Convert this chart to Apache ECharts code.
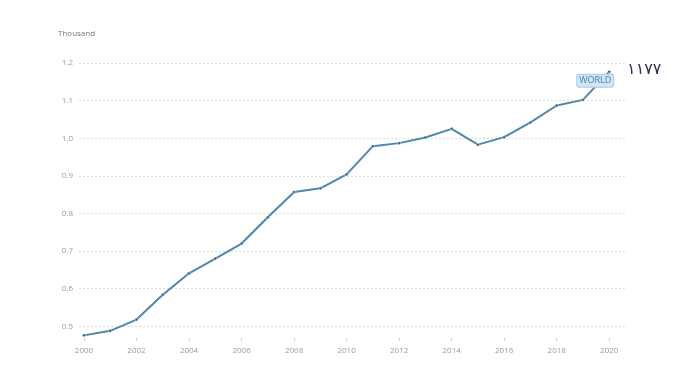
<!DOCTYPE html>
<html>
<head>
<meta charset="utf-8">
<script src="https://cdn.jsdelivr.net/npm/echarts@6/dist/echarts.min.js"></script>
<style>html,body{margin:0;padding:0;background:#fff}#c{width:700px;height:367px}</style>
</head>
<body>
<div id="c"></div>
<script>
var years = [2000,2001,2002,2003,2004,2005,2006,2007,2008,2009,2010,2011,2012,2013,2014,2015,2016,2017,2018,2019,2020];
var values = [0.476,0.488,0.518,0.584,0.641,0.680,0.720,0.790,0.857,0.867,0.904,0.979,0.987,1.002,1.025,0.983,1.003,1.042,1.087,1.102,1.177];
var xTicks = [2000,2002,2004,2006,2008,2010,2012,2014,2016,2018,2020];
var yTicks = [0.5,0.6,0.7,0.8,0.9,1.0,1.1,1.2];
var unitLabel = 'Thousand';
var seriesName = 'WORLD';
var lastValueText = '١١٧٧';

var chart = echarts.init(document.getElementById('c'));
var data = years.map(function(y,i){ return [y, values[i]]; });
var last = data.length - 1;
data[last] = {
  value: data[last],
  label: {
    show: true, formatter: seriesName, position: 'inside', offset: [-14, 9],
    color: '#4a7fab', fontSize: 9, fontFamily: 'Open Sans',
    backgroundColor: '#d2e5f3', borderColor: '#a9cbe3', borderWidth: 1,
    borderRadius: 2, padding: [2, 2, 1, 2]
  }
};
chart.setOption({
  animation: false,
  backgroundColor: '#ffffff',
  grid: { left: 79, right: 75, top: 63, bottom: 29, containLabel: false },
  xAxis: {
    type: 'value', min: 1999.81, max: 2020.6,
    axisLine: { show: false },
    axisTick: { show: true, customValues: xTicks, length: 3, lineStyle: { color: '#cccccc' } },
    axisLabel: { customValues: xTicks, color: '#9a9a9a', fontSize: 8, fontFamily: 'Open Sans', margin: 9,
      formatter: function(v){ return String(v); } },
    splitLine: { show: false }
  },
  yAxis: {
    type: 'value', min: 0.469, max: 1.2,
    name: unitLabel, nameLocation: 'end', nameGap: 25,
    nameTextStyle: { color: '#777', fontSize: 8, fontFamily: 'Open Sans', align: 'left', padding: [0,0,0,-21] },
    axisLine: { show: false },
    axisTick: { show: false, customValues: yTicks },
    axisLabel: { customValues: yTicks, color: '#9a9a9a', fontSize: 8, fontFamily: 'Open Sans', margin: 6,
      formatter: function(v){ return v.toFixed(1); } },
    splitLine: { show: true, lineStyle: { color: '#dddddd', type: [2, 2], width: 1 } }
  },
  series: [{
    name: seriesName,
    type: 'line',
    data: data,
    symbol: 'circle', symbolSize: 3,
    itemStyle: { color: '#2f5f80', borderColor: '#e8f0f5', borderWidth: 0.5 },
    lineStyle: { color: '#4f87a9', width: 2 },
    markPoint: {
      symbol: 'circle', symbolSize: 0,
      data: [{ coord: [years[last], values[last]] }],
      label: { show: true, formatter: lastValueText, position: 'inside', offset: [35, -2],
        color: '#2b2f55', fontSize: 16, fontFamily: 'DejaVu Sans' }
    }
  }]
});
</script>
</body>
</html>
